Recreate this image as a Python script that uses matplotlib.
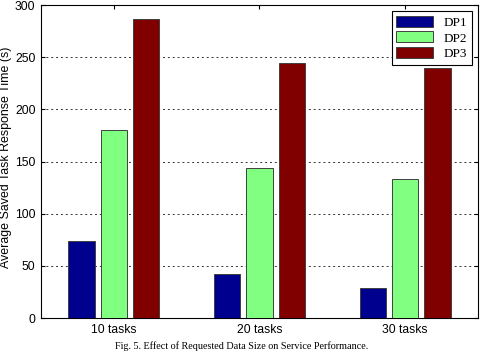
import matplotlib
matplotlib.use("Agg")
import matplotlib.pyplot as plt
import numpy as np

categories = ["10 tasks", "20 tasks", "30 tasks"]
series_names = ["DP1", "DP2", "DP3"]
dp1 = [73.5, 42.5, 28.4]
dp2 = [180, 143.3, 133.4]
dp3 = [287, 244, 239.3]
colors = ["#00008f", "#80ff80", "#800000"]
yticks = [0, 50, 100, 150, 200, 250, 300]

fig = plt.figure(figsize=(4.84, 3.55), dpi=100)
ax = fig.add_axes([0.0847, 0.1042, 0.9029, 0.8817])

x = np.arange(1, len(categories) + 1)
width = 0.18
offsets = [-0.222, 0.0, 0.222]
for vals, name, col, off in zip([dp1, dp2, dp3], series_names, colors, offsets):
    ax.bar(x + off, vals, width, color=col, edgecolor="#404040", linewidth=0.7, label=name, zorder=3)

ax.set_xlim(0.5, 3.5)
ax.set_ylim(0, 300)
ax.set_xticks(x)
ax.set_xticklabels(categories)
ax.set_yticks(yticks)
for lab in ax.get_xticklabels() + ax.get_yticklabels():
    lab.set_family("Liberation Sans")
    lab.set_fontsize(8.7)
ax.tick_params(axis="both", direction="in", top=True, right=True, length=3, pad=4)
ax.yaxis.grid(True, linestyle=(0, (2, 3)), color="black", linewidth=0.7, alpha=0.8)
ax.set_axisbelow(True)
ax.set_ylabel("Average Saved Task Response Time (s)", fontsize=8.9, family="Liberation Sans")
ax.yaxis.set_label_coords(-0.066, 0.514)
for s in ax.spines.values():
    s.set_linewidth(0.8)

leg = ax.legend(loc="upper right", prop={"family": "Liberation Serif", "size": 9.5},
                fancybox=False, edgecolor="black", framealpha=1,
                handlelength=2.8, handleheight=0.9, borderaxespad=0.45, labelspacing=0.22,
                borderpad=0.35)
leg.get_frame().set_linewidth(0.8)

fig.text(0.5, 0.012, "Fig. 5. Effect of Requested Data Size on Service Performance.",
         ha="center", va="bottom", fontsize=7.3, family="Liberation Serif")

fig.savefig("out.png", dpi=100)
